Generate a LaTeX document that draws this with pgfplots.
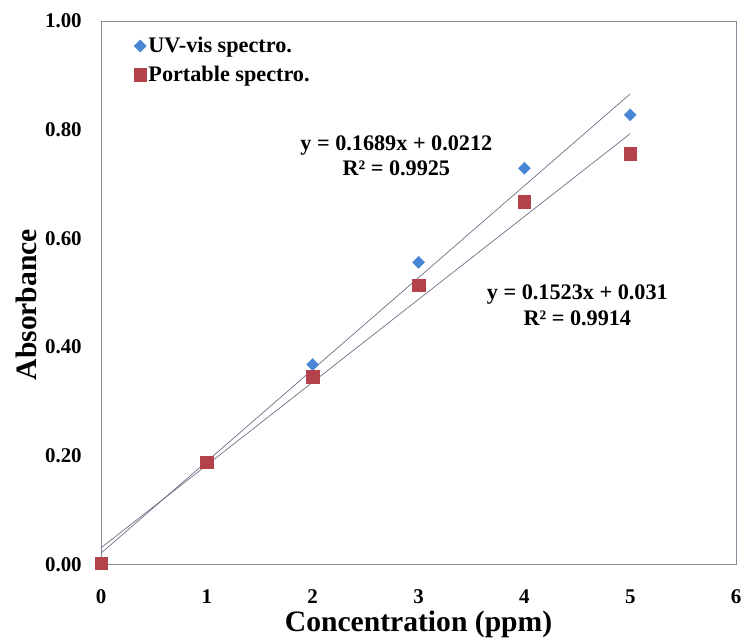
\documentclass[border=0pt]{standalone}
\usepackage{pgfplots}
\pgfplotsset{compat=1.18}
\usetikzlibrary{calc}
\usepackage{fontspec}
\setmainfont{Liberation Serif}
\definecolor{uvblue}{HTML}{4A86D6}
\definecolor{pred}{HTML}{B3424A}
\definecolor{axgray}{HTML}{8A8A9A}
\definecolor{trend}{HTML}{6E6E84}
\begin{document}
\begin{tikzpicture}
\begin{axis}[
  name=ax,
  width=641bp, height=549bp, scale only axis,
  xmin=0, xmax=6, ymin=0, ymax=1,
  xtick={0,1,2,3,4,5,6},
  ytick={0,0.2,0.4,0.6,0.8,1.0},
  yticklabel style={/pgf/number format/fixed, /pgf/number format/fixed zerofill, /pgf/number format/precision=2, xshift=-16bp},
  /pgf/number format/assume math mode=true,
  tick label style={font=\fontsize{21.2}{24}\selectfont\bfseries},
  major tick length=0pt,
  axis line style={axgray, line width=0.6pt},
  xticklabel style={inner sep=0pt, yshift=-25bp},
  xlabel={Concentration (ppm)},
  ylabel={Absorbance},
  label style={font=\fontsize{30}{32}\selectfont\bfseries},
  xlabel style={inner sep=0pt, yshift=-7bp},
  ylabel style={yshift=2bp, xshift=-12bp},
  legend style={draw=none, fill=none, at={(0.05,0.975)}, anchor=north west,
    font=\fontsize{22.5}{26}\selectfont\bfseries, row sep=8bp, inner sep=1bp},
  legend cell align=left,
  legend image code/.code={\draw[#1] plot coordinates {(0.2cm,0cm)};},
  clip=false,
]
\addplot[trend, line width=0.7pt, forget plot] coordinates {(0,0.0212) (5,0.8657)};
\addplot[trend, line width=0.7pt, forget plot] coordinates {(0,0.031) (5,0.7925)};
\addplot[only marks, mark=square*, mark size=4.3bp, color=uvblue, mark options={fill=uvblue, draw=uvblue, rotate=45}]
  coordinates {(0,0.003) (1,0.188) (2,0.368) (3,0.556) (4,0.729) (5,0.827)};
\addlegendentry{UV-vis spectro.}
\addplot[only marks, mark=square*, mark size=6.3bp, color=pred, mark options={fill=pred, draw=pred}]
  coordinates {(0,0.003) (1,0.188) (2,0.346) (3,0.514) (4,0.667) (5,0.756)};
\addlegendentry{Portable spectro.}
\node[font=\fontsize{22.5}{26}\selectfont\bfseries, align=center] at (axis cs:2.79,0.752) {y = 0.1689x + 0.0212\\R² = 0.9925};
\node[font=\fontsize{22.5}{26}\selectfont\bfseries, align=center] at (axis cs:4.50,0.477) {y = 0.1523x + 0.031\\R² = 0.9914};
\end{axis}
\pgfresetboundingbox
\path ($(ax.south west)+(-102bp,-74bp)$) rectangle ($(ax.north east)+(9bp,21bp)$);
\end{tikzpicture}
\end{document}
